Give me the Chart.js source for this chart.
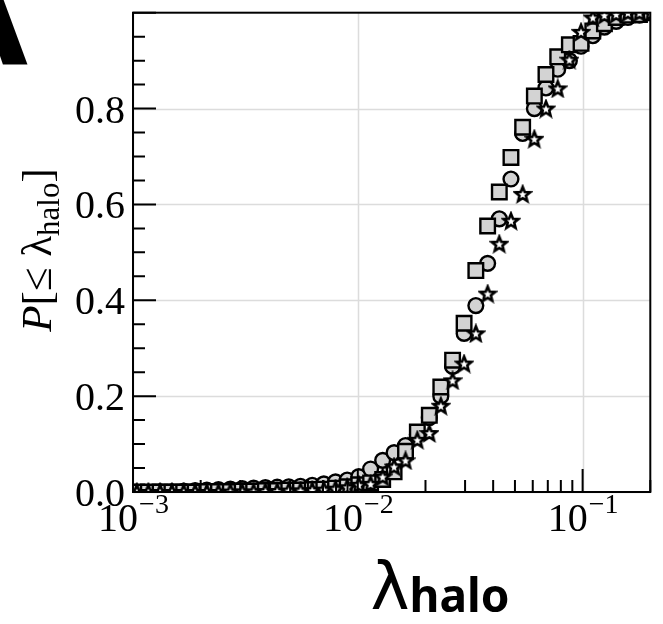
<!DOCTYPE html>
<html>
<head>
<meta charset="utf-8">
<script src="https://cdn.jsdelivr.net/npm/chart.js@4.4.1/dist/chart.umd.min.js"></script>
<style>
  html, body { margin: 0; padding: 0; background: #fff; }
  #wrap { width: 663px; height: 624px; }
</style>
</head>
<body>
<div id="wrap"><canvas id="cdf" width="663" height="624"></canvas></div>
<script>
// lambda_halo bins (log spaced)
var lambdaBins = [
  0.00104, 0.00117, 0.00132, 0.00149, 0.00168, 0.00189, 0.00213, 0.00240, 0.00271,
  0.00306, 0.00344, 0.00388, 0.00438, 0.00493, 0.00556, 0.00627, 0.00706, 0.00796,
  0.00897, 0.0101, 0.0114, 0.0129, 0.0145, 0.0163, 0.0184, 0.0208, 0.0234, 0.0264,
  0.0297, 0.0335, 0.0378, 0.0426, 0.0480, 0.0541, 0.0610, 0.0687, 0.0775, 0.0873,
  0.0984, 0.111, 0.125, 0.141, 0.159, 0.179, 0.202
];

// cumulative fractions P[<= lambda_halo]
var circleVals = [
  0.000, 0.000, 0.001, 0.001, 0.002, 0.003, 0.004, 0.005, 0.006,
  0.007, 0.008, 0.009, 0.010, 0.011, 0.012, 0.014, 0.017, 0.021,
  0.025, 0.032, 0.048, 0.066, 0.082, 0.097, 0.120, 0.155, 0.200, 0.262,
  0.331, 0.389, 0.477, 0.570, 0.653, 0.748, 0.800, 0.843, 0.882, 0.900,
  0.930, 0.952, 0.970, 0.982, 0.990, 0.995, 1.000
];
var squareVals = [
  0.000, 0.000, 0.000, 0.000, 0.000, 0.000, 0.001, 0.001, 0.001,
  0.002, 0.002, 0.003, 0.003, 0.004, 0.004, 0.005, 0.006, 0.008,
  0.011, 0.015, 0.019, 0.026, 0.042, 0.085, 0.125, 0.160, 0.219, 0.275,
  0.352, 0.462, 0.555, 0.626, 0.698, 0.761, 0.826, 0.871, 0.908, 0.933,
  0.936, 0.962, 0.977, 0.990, 0.995, 0.996, 1.000
];
var starVals = [
  0.000, 0.000, 0.000, 0.000, 0.000, 0.000, 0.000, 0.000, 0.001,
  0.001, 0.001, 0.002, 0.002, 0.003, 0.003, 0.004, 0.005, 0.007,
  0.010, 0.015, 0.017, 0.032, 0.053, 0.066, 0.109, 0.123, 0.180, 0.233,
  0.268, 0.331, 0.414, 0.518, 0.566, 0.622, 0.737, 0.800, 0.842, 0.902,
  0.960, 0.990, 0.995, 0.997, 1.000, 1.000, 1.000
];

// ticks
var xMajor = [0.001, 0.01, 0.1];
var xExponents = ['\u22123', '\u22122', '\u22121'];
var yMajor = [0, 0.2, 0.4, 0.6, 0.8];
var yLabels = ['0.0', '0.2', '0.4', '0.6', '0.8'];

function pts(vals) {
  return lambdaBins.map(function (v, i) { return { x: v, y: vals[i] }; });
}

function starImage() {
  var c = document.createElement('canvas');
  c.width = 20; c.height = 20;
  var g = c.getContext('2d');
  g.beginPath();
  for (var i = 0; i < 10; i++) {
    var r = i % 2 ? 3.4 : 7.8;
    var a = -Math.PI / 2 + i * Math.PI / 5;
    g.lineTo(10 + r * Math.cos(a), 10.8 + r * Math.sin(a));
  }
  g.closePath();
  g.fillStyle = '#fff';
  g.fill();
  g.lineWidth = 2.6;
  g.lineJoin = 'miter';
  g.strokeStyle = '#000';
  g.stroke();
  return c;
}

var serif = "'Liberation Serif', 'DejaVu Serif', serif";

var decor = {
  id: 'decor',
  beforeDatasetsDraw: function (chart) {
    var ctx = chart.ctx, a = chart.chartArea, x = chart.scales.x, y = chart.scales.y;
    ctx.save();
    ctx.strokeStyle = '#dcdcdc';
    ctx.lineWidth = 1.5;
    xMajor.forEach(function (v) {
      var px = Math.round(x.getPixelForValue(v)) + 0.5;
      ctx.beginPath(); ctx.moveTo(px, a.top); ctx.lineTo(px, a.bottom); ctx.stroke();
    });
    yMajor.forEach(function (v) {
      var py = Math.round(y.getPixelForValue(v)) + 0.5;
      ctx.beginPath(); ctx.moveTo(a.left, py); ctx.lineTo(a.right, py); ctx.stroke();
    });
    ctx.restore();
  },
  afterDatasetsDraw: function (chart) {
    var ctx = chart.ctx, a = chart.chartArea, x = chart.scales.x, y = chart.scales.y;
    ctx.save();
    ctx.strokeStyle = '#000';
    ctx.lineWidth = 2;
    ctx.strokeRect(a.left, a.top, a.right - a.left, a.bottom - a.top);

    // inward ticks, x
    ctx.beginPath();
    for (var d = -3; d <= -1; d++) {
      for (var m = 1; m <= 9; m++) {
        var v = m * Math.pow(10, d);
        if (v < x.min || v > x.max) continue;
        var px = x.getPixelForValue(v);
        var len = m === 1 ? 23 : 12;
        ctx.moveTo(px, a.bottom); ctx.lineTo(px, a.bottom - len);
      }
    }
    // inward ticks, y
    for (var k = 0; k <= 20; k++) {
      var py = y.getPixelForValue(k * 0.05);
      var ylen = k % 4 === 0 ? 23 : 12;
      ctx.moveTo(a.left, py); ctx.lineTo(a.left + ylen, py);
    }
    ctx.stroke();

    // y tick labels
    ctx.fillStyle = '#000';
    ctx.font = '40px ' + serif;
    ctx.textAlign = 'right';
    ctx.textBaseline = 'alphabetic';
    yMajor.forEach(function (v, i) {
      ctx.fillText(yLabels[i], a.left - 8, y.getPixelForValue(v) + 14);
    });

    // x tick labels 10^n
    xMajor.forEach(function (v, i) {
      var px = x.getPixelForValue(v);
      ctx.font = '40px ' + serif;
      var wb = ctx.measureText('10').width;
      ctx.font = '28px ' + serif;
      var we = ctx.measureText(xExponents[i]).width;
      var x0 = px - (wb + we) / 2;
      ctx.textAlign = 'left';
      ctx.font = '40px ' + serif;
      ctx.fillText('10', x0, a.bottom + 39);
      ctx.font = '28px ' + serif;
      ctx.fillText(xExponents[i], x0 + wb + 1, a.bottom + 21);
    });

    // y axis title: P[<= lambda_halo]
    ctx.save();
    ctx.translate(51, 250);
    ctx.rotate(-Math.PI / 2);
    var parts = [
      ['italic 43px ' + serif, 'P', 0],
      ['43px ' + serif, '[\u2264 \u03bb', 0],
      ['31px ' + serif, 'halo', 8],
      ['43px ' + serif, ']', 0]
    ];
    var total = 0;
    parts.forEach(function (p) { ctx.font = p[0]; total += ctx.measureText(p[1]).width; });
    var cx = -total / 2;
    ctx.textAlign = 'left';
    parts.forEach(function (p) {
      ctx.font = p[0];
      ctx.fillText(p[1], cx, p[2]);
      cx += ctx.measureText(p[1]).width;
    });
    ctx.restore();

    // x axis title: lambda_halo
    ctx.textAlign = 'left';
    ctx.font = '66px "DejaVu Sans", sans-serif';
    var wl = ctx.measureText('\u03bb').width;
    ctx.font = 'bold 46px "Noto Sans", sans-serif';
    var wh = ctx.measureText('halo').width;
    var sx = 440 - (wl + wh) / 2;
    ctx.font = '66px "DejaVu Sans", sans-serif';
    ctx.fillText('\u03bb', sx, 609);
    ctx.font = 'bold 46px "Noto Sans", sans-serif';
    ctx.fillText('halo', sx + wl, 612);

    // panel letter (mostly outside the page on the left)
    ctx.textAlign = 'right';
    ctx.font = 'bold 130px "DejaVu Sans", sans-serif';
    ctx.fillText('A', 28, 64);
    ctx.restore();
  }
};

var grey = '#d3d3d3';
var chart = new Chart(document.getElementById('cdf').getContext('2d'), {
  type: 'scatter',
  data: {
    datasets: [
      {
        label: 'stars',
        data: pts(starVals),
        pointStyle: starImage(),
        pointRadius: 8,
        clip: 0,
        order: 0
      },
      {
        label: 'squares',
        data: pts(squareVals),
        pointStyle: 'rect',
        pointRadius: 10.3,
        backgroundColor: grey,
        borderColor: '#000',
        borderWidth: 2.4,
        clip: 0,
        order: 1
      },
      {
        label: 'circles',
        data: pts(circleVals),
        pointStyle: 'circle',
        pointRadius: 7.4,
        backgroundColor: grey,
        borderColor: '#000',
        borderWidth: 2.4,
        clip: 0,
        order: 2
      }
    ]
  },
  options: {
    responsive: false,
    animation: false,
    devicePixelRatio: 1,
    layout: { padding: { left: 133, right: 1, top: 11, bottom: 132 } },
    scales: {
      x: { type: 'logarithmic', min: 0.001, max: 0.2, display: false },
      y: { type: 'linear', min: 0, max: 1.0, display: false }
    },
    plugins: {
      legend: { display: false },
      tooltip: { enabled: false }
    }
  },
  plugins: [decor]
});
</script>
</body>
</html>
